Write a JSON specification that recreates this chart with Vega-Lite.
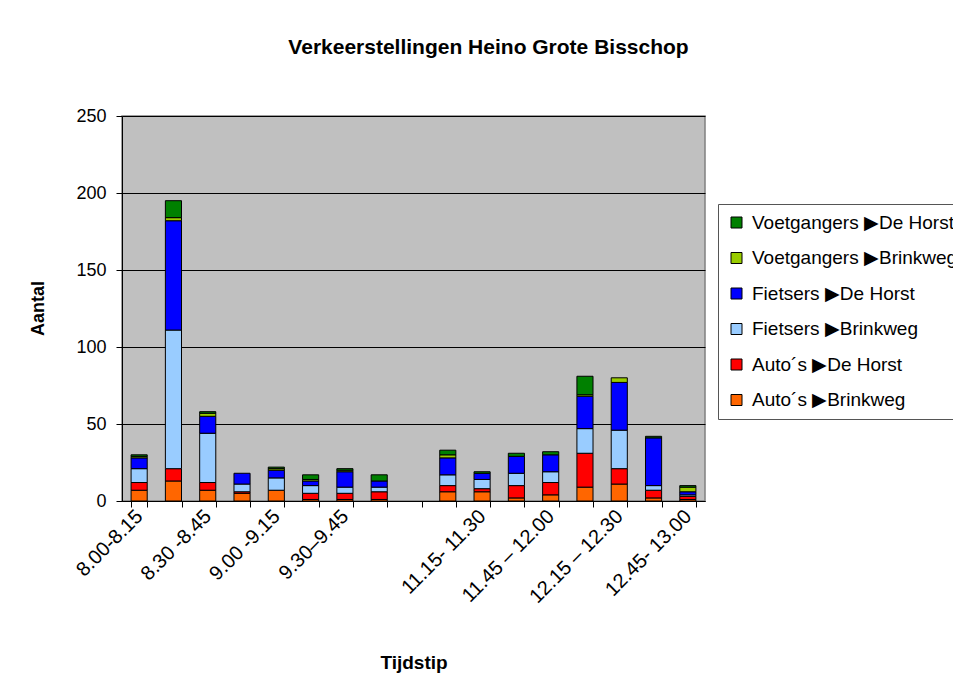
{
  "$schema": "https://vega.github.io/schema/vega-lite/v6.json",
  "autosize": {"type": "none"},
  "width": 583,
  "height": 385,
  "padding": {"left": 122, "top": 116, "right": 248, "bottom": 190},
  "background": "white",
  "config": {
    "font": "Liberation Sans",
    "view": {"fill": "#C0C0C0", "stroke": "#808080", "strokeWidth": 1.5}
  },
  "title": {
    "text": "Verkeerstellingen Heino Grote Bisschop",
    "fontSize": 21,
    "fontWeight": "bold",
    "color": "black",
    "anchor": "middle",
    "frame": "group",
    "dx": 75,
    "offset": 49
  },
  "data": {
    "values": [
      {"t": "8.00-8.15", "s": "Auto´s ▶Brinkweg", "v": 7},
      {"t": "8.00-8.15", "s": "Auto´s ▶De Horst", "v": 5},
      {"t": "8.00-8.15", "s": "Fietsers ▶Brinkweg", "v": 9},
      {"t": "8.00-8.15", "s": "Fietsers ▶De Horst", "v": 7},
      {"t": "8.00-8.15", "s": "Voetgangers ▶Brinkweg", "v": 1},
      {"t": "8.00-8.15", "s": "Voetgangers ▶De Horst", "v": 1},
      {"t": "8.15-8.30", "s": "Auto´s ▶Brinkweg", "v": 13},
      {"t": "8.15-8.30", "s": "Auto´s ▶De Horst", "v": 8},
      {"t": "8.15-8.30", "s": "Fietsers ▶Brinkweg", "v": 90},
      {"t": "8.15-8.30", "s": "Fietsers ▶De Horst", "v": 71},
      {"t": "8.15-8.30", "s": "Voetgangers ▶Brinkweg", "v": 2},
      {"t": "8.15-8.30", "s": "Voetgangers ▶De Horst", "v": 11},
      {"t": "8.30 -8.45", "s": "Auto´s ▶Brinkweg", "v": 7},
      {"t": "8.30 -8.45", "s": "Auto´s ▶De Horst", "v": 5},
      {"t": "8.30 -8.45", "s": "Fietsers ▶Brinkweg", "v": 32},
      {"t": "8.30 -8.45", "s": "Fietsers ▶De Horst", "v": 11},
      {"t": "8.30 -8.45", "s": "Voetgangers ▶Brinkweg", "v": 2},
      {"t": "8.30 -8.45", "s": "Voetgangers ▶De Horst", "v": 1},
      {"t": "8.45-9.00", "s": "Auto´s ▶Brinkweg", "v": 5},
      {"t": "8.45-9.00", "s": "Auto´s ▶De Horst", "v": 1},
      {"t": "8.45-9.00", "s": "Fietsers ▶Brinkweg", "v": 5},
      {"t": "8.45-9.00", "s": "Fietsers ▶De Horst", "v": 7},
      {"t": "9.00 -9.15", "s": "Auto´s ▶Brinkweg", "v": 7},
      {"t": "9.00 -9.15", "s": "Fietsers ▶Brinkweg", "v": 8},
      {"t": "9.00 -9.15", "s": "Fietsers ▶De Horst", "v": 5},
      {"t": "9.00 -9.15", "s": "Voetgangers ▶Brinkweg", "v": 1},
      {"t": "9.00 -9.15", "s": "Voetgangers ▶De Horst", "v": 1},
      {"t": "9.15-9.30", "s": "Auto´s ▶Brinkweg", "v": 1},
      {"t": "9.15-9.30", "s": "Auto´s ▶De Horst", "v": 4},
      {"t": "9.15-9.30", "s": "Fietsers ▶Brinkweg", "v": 5},
      {"t": "9.15-9.30", "s": "Fietsers ▶De Horst", "v": 3},
      {"t": "9.15-9.30", "s": "Voetgangers ▶Brinkweg", "v": 1},
      {"t": "9.15-9.30", "s": "Voetgangers ▶De Horst", "v": 3},
      {"t": "9.30–9.45", "s": "Auto´s ▶Brinkweg", "v": 1},
      {"t": "9.30–9.45", "s": "Auto´s ▶De Horst", "v": 4},
      {"t": "9.30–9.45", "s": "Fietsers ▶Brinkweg", "v": 4},
      {"t": "9.30–9.45", "s": "Fietsers ▶De Horst", "v": 10},
      {"t": "9.30–9.45", "s": "Voetgangers ▶Brinkweg", "v": 1},
      {"t": "9.30–9.45", "s": "Voetgangers ▶De Horst", "v": 1},
      {"t": "9.45-10.00", "s": "Auto´s ▶Brinkweg", "v": 1},
      {"t": "9.45-10.00", "s": "Auto´s ▶De Horst", "v": 5},
      {"t": "9.45-10.00", "s": "Fietsers ▶Brinkweg", "v": 3},
      {"t": "9.45-10.00", "s": "Fietsers ▶De Horst", "v": 4},
      {"t": "9.45-10.00", "s": "Voetgangers ▶De Horst", "v": 4},
      {"t": "11.00-11.15", "s": "Auto´s ▶Brinkweg", "v": 6},
      {"t": "11.00-11.15", "s": "Auto´s ▶De Horst", "v": 4},
      {"t": "11.00-11.15", "s": "Fietsers ▶Brinkweg", "v": 7},
      {"t": "11.00-11.15", "s": "Fietsers ▶De Horst", "v": 11},
      {"t": "11.00-11.15", "s": "Voetgangers ▶Brinkweg", "v": 2},
      {"t": "11.00-11.15", "s": "Voetgangers ▶De Horst", "v": 3},
      {"t": "11.15- 11.30", "s": "Auto´s ▶Brinkweg", "v": 6},
      {"t": "11.15- 11.30", "s": "Auto´s ▶De Horst", "v": 2},
      {"t": "11.15- 11.30", "s": "Fietsers ▶Brinkweg", "v": 6},
      {"t": "11.15- 11.30", "s": "Fietsers ▶De Horst", "v": 4},
      {"t": "11.15- 11.30", "s": "Voetgangers ▶De Horst", "v": 1},
      {"t": "11.30-11.45", "s": "Auto´s ▶Brinkweg", "v": 2},
      {"t": "11.30-11.45", "s": "Auto´s ▶De Horst", "v": 8},
      {"t": "11.30-11.45", "s": "Fietsers ▶Brinkweg", "v": 8},
      {"t": "11.30-11.45", "s": "Fietsers ▶De Horst", "v": 11},
      {"t": "11.30-11.45", "s": "Voetgangers ▶De Horst", "v": 2},
      {"t": "11.45 – 12.00", "s": "Auto´s ▶Brinkweg", "v": 4},
      {"t": "11.45 – 12.00", "s": "Auto´s ▶De Horst", "v": 8},
      {"t": "11.45 – 12.00", "s": "Fietsers ▶Brinkweg", "v": 7},
      {"t": "11.45 – 12.00", "s": "Fietsers ▶De Horst", "v": 11},
      {"t": "11.45 – 12.00", "s": "Voetgangers ▶De Horst", "v": 2},
      {"t": "12.00-12.15", "s": "Auto´s ▶Brinkweg", "v": 9},
      {"t": "12.00-12.15", "s": "Auto´s ▶De Horst", "v": 22},
      {"t": "12.00-12.15", "s": "Fietsers ▶Brinkweg", "v": 16},
      {"t": "12.00-12.15", "s": "Fietsers ▶De Horst", "v": 21},
      {"t": "12.00-12.15", "s": "Voetgangers ▶Brinkweg", "v": 1},
      {"t": "12.00-12.15", "s": "Voetgangers ▶De Horst", "v": 12},
      {"t": "12.15 – 12.30", "s": "Auto´s ▶Brinkweg", "v": 11},
      {"t": "12.15 – 12.30", "s": "Auto´s ▶De Horst", "v": 10},
      {"t": "12.15 – 12.30", "s": "Fietsers ▶Brinkweg", "v": 25},
      {"t": "12.15 – 12.30", "s": "Fietsers ▶De Horst", "v": 31},
      {"t": "12.15 – 12.30", "s": "Voetgangers ▶Brinkweg", "v": 3},
      {"t": "12.30-12.45", "s": "Auto´s ▶Brinkweg", "v": 2},
      {"t": "12.30-12.45", "s": "Auto´s ▶De Horst", "v": 5},
      {"t": "12.30-12.45", "s": "Fietsers ▶Brinkweg", "v": 3},
      {"t": "12.30-12.45", "s": "Fietsers ▶De Horst", "v": 31},
      {"t": "12.30-12.45", "s": "Voetgangers ▶De Horst", "v": 1},
      {"t": "12.45- 13.00", "s": "Auto´s ▶Brinkweg", "v": 1},
      {"t": "12.45- 13.00", "s": "Auto´s ▶De Horst", "v": 2},
      {"t": "12.45- 13.00", "s": "Fietsers ▶Brinkweg", "v": 1},
      {"t": "12.45- 13.00", "s": "Fietsers ▶De Horst", "v": 2},
      {"t": "12.45- 13.00", "s": "Voetgangers ▶Brinkweg", "v": 3},
      {"t": "12.45- 13.00", "s": "Voetgangers ▶De Horst", "v": 1}
    ]
  },
  "mark": {"type": "bar", "stroke": "black", "strokeWidth": 1},
  "encoding": {
    "x": {
      "field": "t",
      "type": "nominal",
      "sort": null,
      "scale": {
        "domain": ["8.00-8.15", "8.15-8.30", "8.30 -8.45", "8.45-9.00", "9.00 -9.15", "9.15-9.30", "9.30–9.45", "9.45-10.00", "10.00-11.00", "11.00-11.15", "11.15- 11.30", "11.30-11.45", "11.45 – 12.00", "12.00-12.15", "12.15 – 12.30", "12.30-12.45", "12.45- 13.00"],
        "paddingInner": 0.53,
        "paddingOuter": 0.265
      },
      "axis": {
        "title": "Tijdstip",
        "titleFontSize": 19,
        "titleFontWeight": "bold",
        "titleColor": "black",
        "titleX": 291.5,
        "titleY": 161,
        "titleAlign": "center",
        "titleBaseline": "middle",
        "labelExpr": "indexof(['8.00-8.15','8.30 -8.45','9.00 -9.15','9.30–9.45','11.15- 11.30','11.45 – 12.00','12.15 – 12.30','12.45- 13.00'], datum.value) >= 0 ? datum.value : ''",
        "labelAngle": -45,
        "labelAlign": "right",
        "labelBaseline": "middle",
        "labelFontSize": 20,
        "labelColor": "black",
        "labelPadding": 6,
        "labelOverlap": false,
        "labelBound": false,
        "labelLimit": 300,
        "tickBand": "extent",
        "tickSize": 6,
        "tickColor": "black",
        "domainColor": "black",
        "grid": false
      }
    },
    "y": {
      "field": "v",
      "type": "quantitative",
      "stack": "zero",
      "scale": {"domain": [0, 250], "nice": false},
      "axis": {
        "title": "Aantal",
        "titleFontSize": 18,
        "titleFontWeight": "bold",
        "titleColor": "black",
        "titleX": -84,
        "titleY": 192,
        "titleAngle": -90,
        "titleAlign": "center",
        "titleBaseline": "middle",
        "values": [0, 50, 100, 150, 200, 250],
        "labelFontSize": 18,
        "labelColor": "black",
        "labelPadding": 10,
        "tickSize": 6,
        "tickColor": "black",
        "domainColor": "black",
        "grid": true,
        "gridColor": "black",
        "gridOpacity": 1
      }
    },
    "color": {
      "field": "s",
      "type": "nominal",
      "scale": {
        "domain": ["Voetgangers ▶De Horst", "Voetgangers ▶Brinkweg", "Fietsers ▶De Horst", "Fietsers ▶Brinkweg", "Auto´s ▶De Horst", "Auto´s ▶Brinkweg"],
        "range": ["#008000", "#99CC00", "#0000FF", "#99CCFF", "#FF0000", "#FF6600"]
      },
      "legend": {
        "title": null,
        "orient": "none",
        "legendX": 596,
        "legendY": 88,
        "labelFontSize": 19,
        "labelColor": "black",
        "labelLimit": 400,
        "labelOffset": 6,
        "symbolType": "square",
        "symbolSize": 121,
        "symbolStrokeColor": "black",
        "symbolStrokeWidth": 1,
        "symbolOpacity": 1,
        "rowPadding": 15.5,
        "padding": 9,
        "strokeColor": "#555555",
        "fillColor": "white"
      }
    },
    "order": {"field": "s", "type": "ordinal", "sort": "ascending"}
  }
}
